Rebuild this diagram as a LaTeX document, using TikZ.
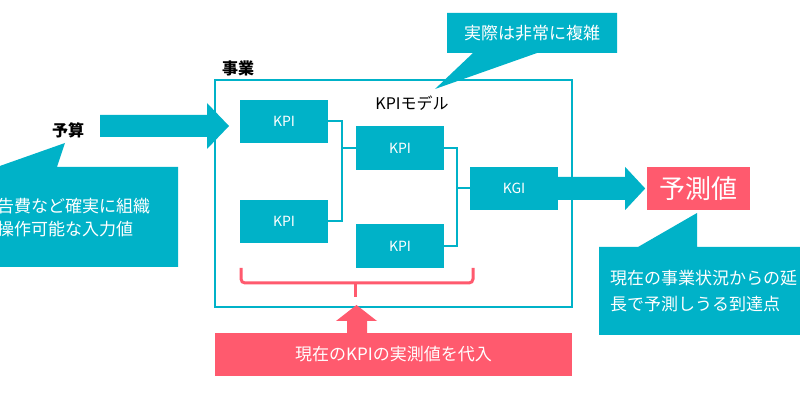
\documentclass[tikz,border=0pt]{standalone}
\usepackage{fontspec}
\setmainfont{Noto Sans CJK JP}
\definecolor{teal1}{HTML}{00B2C8}
\definecolor{red1}{HTML}{FF5A6E}
\begin{document}
\begin{tikzpicture}[x=1pt,y=-1pt,
  kbox/.style={fill=teal1, text=white, minimum width=88pt, minimum height=43pt, inner sep=0pt, font=\fontsize{14}{16}\selectfont},
  link/.style={draw=teal1, line width=2pt},
  lbl/.style={inner sep=0pt, text=black, font=\fontsize{16}{18}\selectfont\bfseries},
  wtxt/.style={inner sep=0pt, text=white, font=\fontsize{17}{19}\selectfont}]
\useasboundingbox[fill=white] (0,0) rectangle (800,419);
% business frame
\node[draw=teal1, line width=2.5pt, minimum width=357pt, minimum height=227pt, inner sep=0pt] (biz) at (393.5,193.5) {};
\node[lbl, anchor=west] (bizl) at (222,68) {事業};
\node[inner sep=0pt, font=\fontsize{16}{18}\selectfont] (model) at (412,103) {KPIモデル};
% KPI boxes
\node[kbox] (k1) at (284,121.5) {KPI};
\node[kbox] (k2) at (284,221.5) {KPI};
\node[kbox, minimum height=44pt] (k3) at (400,148) {KPI};
\node[kbox, minimum height=44pt] (k4) at (400,246) {KPI};
\node[kbox] (kgi) at (514,188.5) {KGI};
\draw[link] (k1.east) -- ++(14,0) |- (k2.east);
\draw[link] (k3.west) -- ++(-14,0);
\draw[link] (k3.east) -- ++(13,0) |- (k4.east);
\draw[link] (kgi.west) -- ++(-13,0);
% input arrow
\node[lbl] (budget) at (68,130) {予算};
\coordinate (inA) at (100,126);
\fill[teal1] (inA) ++(0,-11) -- ++(107,0) -- ++(0,-12) -- ++(22,23) -- ++(-22,23) -- ++(0,-12) -- ++(-107,0) -- cycle;
% output arrow
\fill[teal1] (kgi.east) ++(0,-11.5) -- ++(67,0) -- ++(0,-10) -- ++(20,21.5) -- ++(-20,21.5) -- ++(0,-10) -- ++(-67,0) -- cycle;
\node[fill=red1, text=white, minimum width=103pt, minimum height=43pt, inner sep=0pt, font=\fontsize{26}{28}\selectfont] (pred) at (698.5,188.5) {予測値};
% top callout
\fill[teal1] (447,13) -- (617,13) -- (617,53) -- (537,53) -- (435,89) -- (473,53) -- (447,53) -- cycle;
\node[wtxt] (c1) at (532,33) {実際は非常に複雑};
% left callout
\fill[teal1] (-10,167) -- (-3,167) -- (65,143) -- (57,167) -- (178,167) -- (178,267) -- (-10,267) -- cycle;
\node[wtxt, anchor=west] (c2a) at (-3,206) {告費など確実に組織};
\node[wtxt, anchor=west] (c2b) at (-3,229) {操作可能な入力値};
% right callout
\fill[teal1] (599,247) -- (638,247) -- (697,213) -- (697,247) -- (820,247) -- (820,335) -- (599,335) -- cycle;
\node[wtxt, anchor=west] (c3a) at (610,278) {現在の事業状況からの延};
\node[wtxt, anchor=west] (c3b) at (610,304) {長で予測しうる到達点};
% red bracket
\draw[red1, line width=3pt, rounded corners=4pt] (241,268) -- (241,283) -- (473,283) -- (473,268);
\draw[red1, line width=3pt] (355,283) -- (355,297);
% red up arrow
\node[fill=red1, text=white, minimum width=357pt, minimum height=43pt, inner sep=0pt, font=\fontsize{17}{19}\selectfont] (subst) at (393.5,354.5) {現在のKPIの実測値を代入};
\fill[red1] (subst.north -| 347,0) ++(0,1) -- (347,321) -- (336,321) -- (356.5,305) -- (377,321) -- (367,321) -- (367,334) -- cycle;
\end{tikzpicture}
\end{document}
